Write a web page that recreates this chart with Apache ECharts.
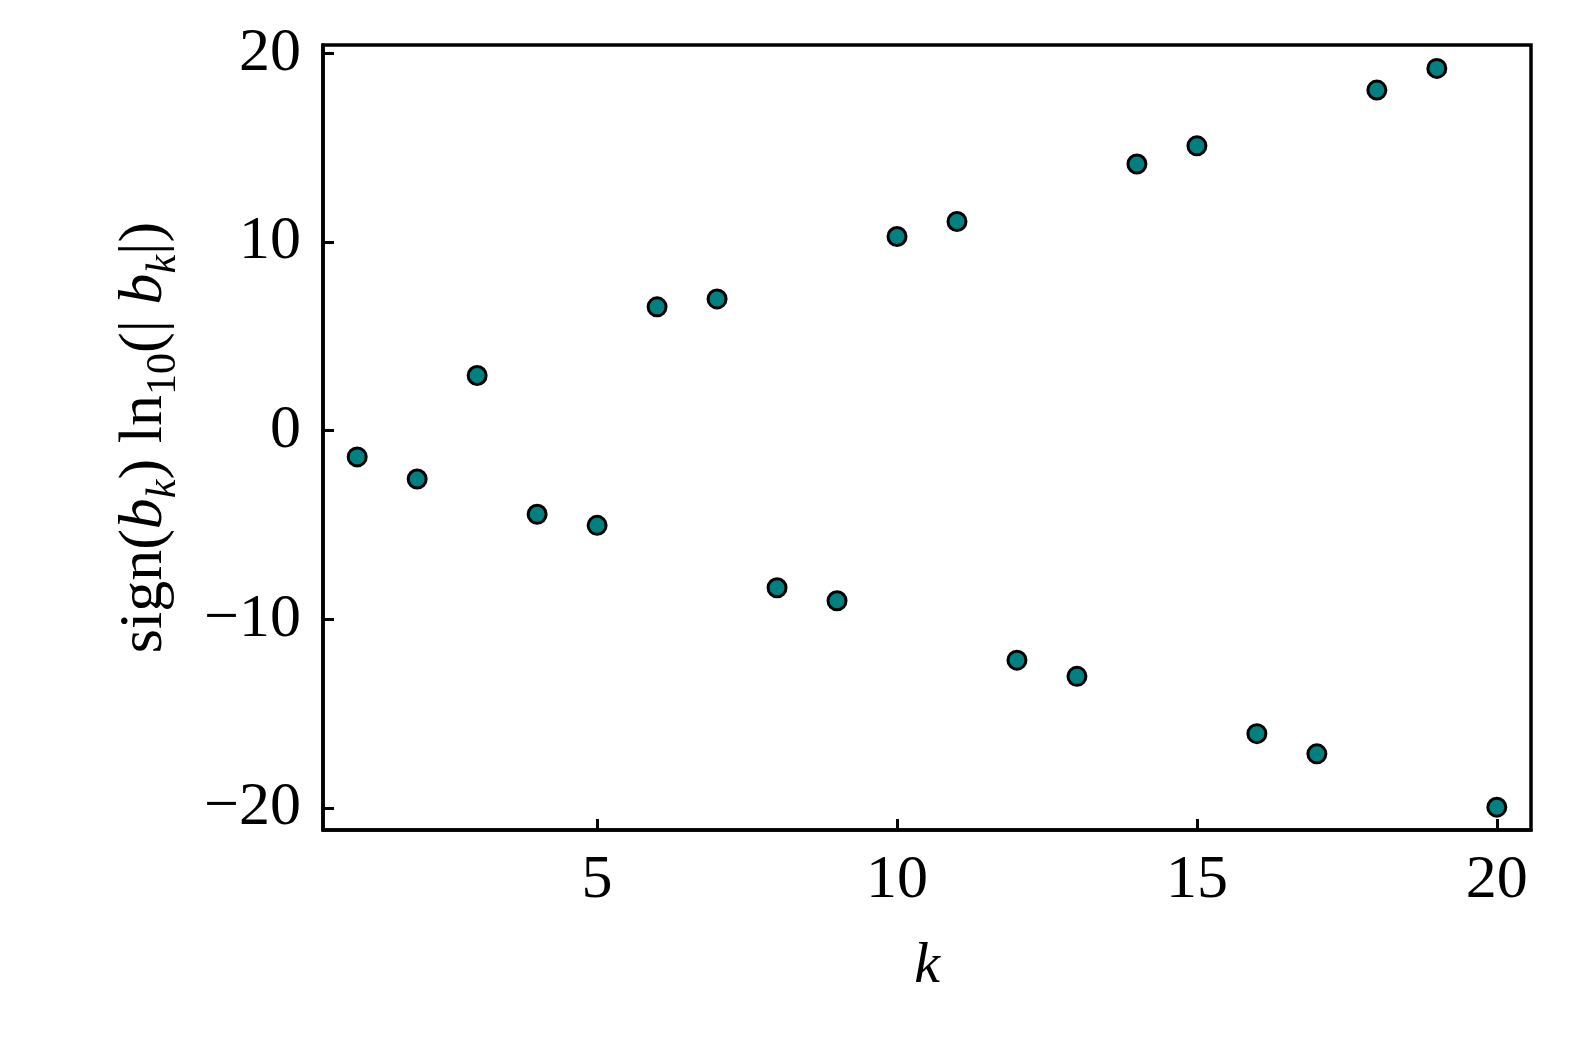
<!DOCTYPE html>
<html>
<head>
<meta charset="utf-8">
<script src="https://cdn.jsdelivr.net/npm/echarts@6/dist/echarts.min.js"></script>
<style>
html, body { margin: 0; padding: 0; background: #fff; }
#chart { width: 1578px; height: 1052px; }
</style>
</head>
<body>
<div id="chart"></div>
<script>
// k values and sign(b_k) ln10(|b_k|)
var kValues = [1, 2, 3, 4, 5, 6, 7, 8, 9, 10, 11, 12, 13, 14, 15, 16, 17, 18, 19, 20];
var logB = [-1.39, -2.56, 2.93, -4.43, -5.02, 6.57, 6.99, -8.33, -9.02, 10.30,
	11.10, -12.17, -13.03, 14.15, 15.11, -16.07, -17.14, 18.07, 19.22, -19.97];
var xTicks = [5, 10, 15, 20];
var yTicks = [-20, -10, 0, 10, 20];

var serif = '"Liberation Serif", "DejaVu Serif", serif';
var chart = echarts.init(document.getElementById('chart'));
var points = kValues.map(function (k, i) { return [k, logB[i]]; });

var option = {
	backgroundColor: '#fff',
	animation: false,
	grid: {
		left: 323,
		right: 47,
		top: 45,
		bottom: 222,
		show: true,
		borderColor: '#000',
		borderWidth: 3.5
	},
	xAxis: {
		type: 'value',
		min: 0.43,
		max: 20.57,
		name: 'k',
		nameLocation: 'middle',
		nameGap: 108,
		nameTextStyle: { fontFamily: serif, fontStyle: 'italic', fontSize: 58, color: '#000' },
		axisLine: { show: true, onZero: false, lineStyle: { color: '#000', width: 3.5 } },
		axisTick: { show: true, inside: true, length: 11, customValues: xTicks, lineStyle: { color: '#000', width: 3 } },
		axisLabel: { customValues: xTicks, fontFamily: serif, fontSize: 62, color: '#000', margin: 20 },
		splitLine: { show: false }
	},
	yAxis: {
		type: 'value',
		min: -21.18,
		max: 20.46,
		name: 'sign({i|b}{s|k}) ln{n|10}(| {i|b}{s|k}|)',
		nameLocation: 'middle',
		nameRotate: 90,
		nameGap: 138,
		nameTextStyle: {
			fontFamily: serif, fontSize: 62, color: '#000', lineHeight: 78,
			rich: {
				i: { fontFamily: serif, fontStyle: 'italic', fontSize: 62, lineHeight: 78 },
				s: { fontFamily: serif, fontStyle: 'italic', fontSize: 42, lineHeight: 80, verticalAlign: 'bottom' },
				n: { fontFamily: serif, fontSize: 42, lineHeight: 80, verticalAlign: 'bottom' }
			}
		},
		axisLine: { show: true, onZero: false, lineStyle: { color: '#000', width: 3.5 } },
		axisTick: { show: true, inside: true, length: 11, customValues: yTicks, lineStyle: { color: '#000', width: 3 } },
		axisLabel: {
			customValues: yTicks, fontFamily: serif, fontSize: 62, color: '#000', margin: 22,
			formatter: function (v) { return v < 0 ? '\u2212' + Math.abs(v) : String(v); }
		},
		splitLine: { show: false }
	},
	series: [{
		type: 'scatter',
		data: points,
		symbol: 'circle',
		symbolSize: 18,
		itemStyle: { color: '#008080', borderColor: '#000', borderWidth: 3, opacity: 1 }
	}]
};
chart.setOption(option);
</script>
</body>
</html>
